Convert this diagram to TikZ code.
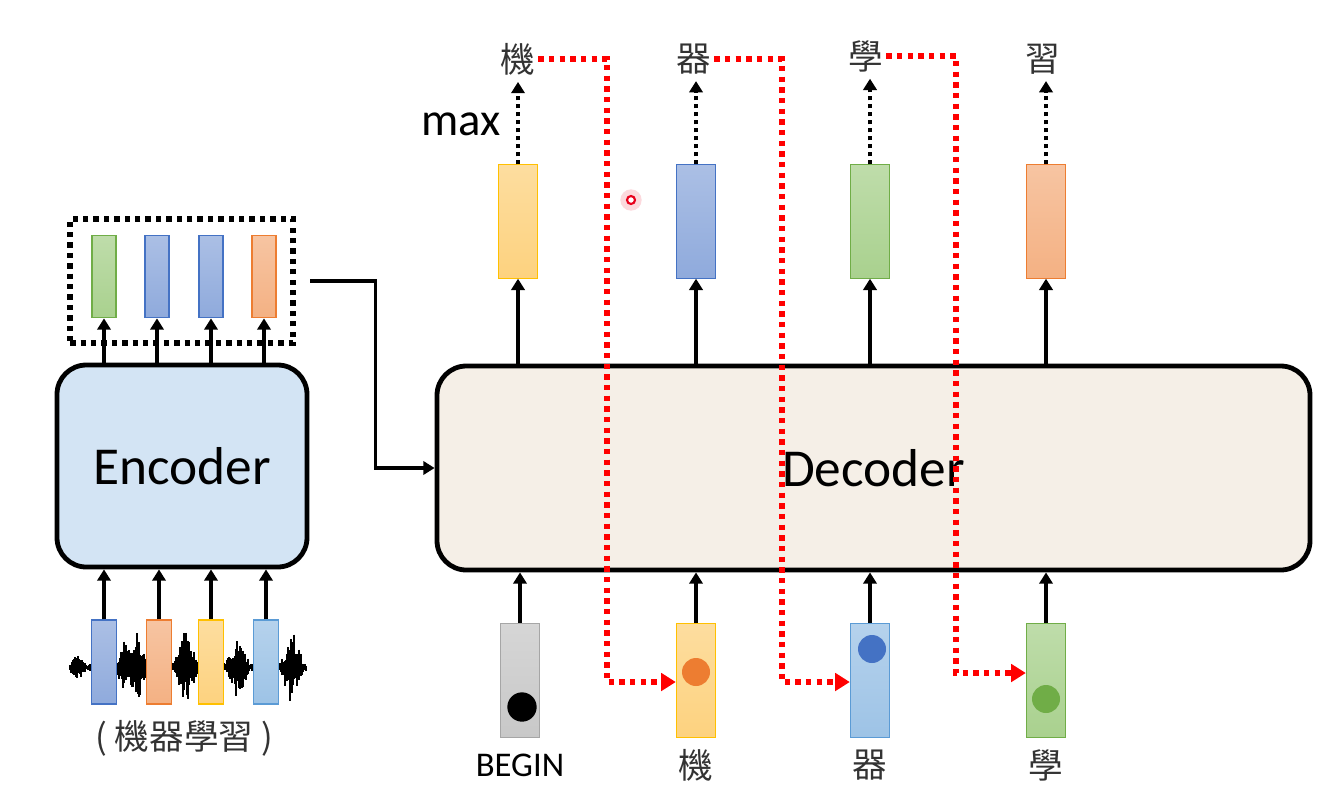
\documentclass[tikz,border=0pt]{standalone}
\usepackage{fontspec}
\newfontfamily\carl{Carlito}
\newfontfamily\cjkf{Noto Sans CJK TC}
\usetikzlibrary{arrows.meta}
\definecolor{gfill}{HTML}{A9D18E}\definecolor{gdraw}{HTML}{70AD47}
\definecolor{bfill}{HTML}{8FAADC}\definecolor{bdraw}{HTML}{4472C4}
\definecolor{ofill}{HTML}{F4B183}\definecolor{odraw}{HTML}{ED7D31}
\definecolor{yfill}{HTML}{FDD27F}\definecolor{ydraw}{HTML}{FFC000}
\definecolor{lbfill}{HTML}{9DC3E6}\definecolor{lbdraw}{HTML}{5B9BD5}
\definecolor{grfill}{HTML}{C8C8C8}\definecolor{grdraw}{HTML}{A6A6A6}
\definecolor{encfill}{HTML}{D3E4F4}\definecolor{decfill}{HTML}{F5EFE7}
\definecolor{txt}{HTML}{333333}
\definecolor{laserred}{HTML}{E8001C}
\begin{document}
\begin{tikzpicture}[x=0.75pt,y=-0.75pt,
  vcol/.style 2 args={top color=#1!75!white, bottom color=#1, draw=#2},
  smallvec/.style={line width=0.8pt, inner sep=0pt, minimum width=18pt, minimum height=62pt},
  audvec/.style={line width=0.8pt, inner sep=0pt, minimum width=19pt, minimum height=63pt},
  bigvec/.style={line width=0.8pt, inner sep=0pt, minimum width=29.5pt, minimum height=85pt},
  mainbox/.style={draw, line width=3.6pt, rounded corners=22pt, inner sep=0pt, font=\carl\fontsize{40}{48}\selectfont},
  grpbox/.style={draw, line width=4.2pt, dash pattern=on 4pt off 3.8pt, inner sep=0pt, minimum width=167pt, minimum height=93pt},
  arr/.style={line width=2.5pt, -{Triangle[width=10pt,length=8.5pt]}},
  dotarr/.style={line width=3pt, dash pattern=on 3pt off 3pt, -{Triangle[width=10pt,length=8.5pt]}, shorten >=3pt},
  redarr/.style={draw=red, line width=4pt, dash pattern=on 4pt off 4pt, -{Triangle[width=13pt,length=11pt]}},
  cjklab/.style={text=txt, font=\cjkf\fontsize{26}{30}\selectfont, inner sep=2pt},
  sanslab/.style={text=txt, font=\carl\fontsize{26}{30}\selectfont, inner sep=2pt},
  dotball/.style={circle, inner sep=0pt, minimum size=#1}
]
\useasboundingbox (0,0) rectangle (1333,785);

% waveform
\pgfmathsetseed{42}
\foreach \x in {70,...,306}{
  \pgfmathsetmacro\env{4+10*max(0,1-abs(\x-78)/9)+24*max(0,1-abs(\x-125)/10)+34*max(0,1-abs(\x-138)/9)+36*max(0,1-abs(\x-186)/12)+32*max(0,1-abs(\x-238)/12)+36*max(0,1-abs(\x-292)/12)}
  \pgfmathsetmacro\ua{\env*(0.3+0.7*rnd)}
  \pgfmathsetmacro\ub{\env*(0.3+0.7*rnd)}
  \draw[line width=0.9pt] (\x,667-\ua) -- (\x,667+\ub);
}

% encoder
\node[mainbox, fill=encfill, minimum width=187.5pt, minimum height=151.5pt] (enc) at (182,466) {Encoder};
\node[grpbox] (grp) at (181.5,281) {};
\node[smallvec, vcol={gfill}{gdraw}] (o1) at (104,276.5) {};
\node[smallvec, vcol={bfill}{bdraw}] (o2) at (157,276.5) {};
\node[smallvec, vcol={bfill}{bdraw}] (o3) at (211,276.5) {};
\node[smallvec, vcol={ofill}{odraw}] (o4) at (264,276.5) {};
\foreach \i in {1,...,4}{ \draw[arr] (enc.north -| o\i) -- (o\i.south); }

\node[audvec, vcol={bfill}{bdraw}] (a1) at (104,662) {};
\node[audvec, vcol={ofill}{odraw}] (a2) at (159,662) {};
\node[audvec, vcol={yfill}{ydraw}] (a3) at (211,662) {};
\node[audvec, vcol={lbfill}{lbdraw}] (a4) at (266,662) {};
\foreach \i in {1,...,4}{ \draw[arr] (a\i.north) -- (enc.south -| a\i); }
\node[cjklab] (inlab) at (184,738) {( 機器學習 )};

% decoder
\node[mainbox, fill=decfill, minimum width=654.75pt, minimum height=153pt] (dec) at (873.5,468) {Decoder};
\draw[arr, shorten <=11pt] (grp.east) -- ++(80,0) |- (dec.west);

% outputs
\node[bigvec, vcol={yfill}{ydraw}] (v1) at (518,221.5) {};
\node[bigvec, vcol={bfill}{bdraw}] (v2) at (696,221.5) {};
\node[bigvec, vcol={gfill}{gdraw}] (v3) at (870,221.5) {};
\node[bigvec, vcol={ofill}{odraw}] (v4) at (1046,221.5) {};
\node[cjklab] (t1) at (518,59) {機};
\node[cjklab] (t2) at (694,59) {器};
\node[cjklab] (t3) at (866,56) {學};
\node[cjklab] (t4) at (1043,59) {習};
\node[text=black, font=\carl\fontsize{35}{40}\selectfont, inner sep=0pt] (maxlab) at (461,124) {max};
\foreach \i in {1,...,4}{
  \draw[arr] (dec.north -| v\i) -- (v\i.south);
  \draw[dotarr] (v\i.north) -- (v\i.north |- t\i.south);
}

% inputs
\node[bigvec, minimum height=86pt, vcol={grfill}{grdraw}] (i1) at (520,680.5) {};
\node[bigvec, minimum height=86pt, vcol={yfill}{ydraw}] (i2) at (696,680.5) {};
\node[bigvec, minimum height=86pt, vcol={lbfill}{lbdraw}] (i3) at (870,680.5) {};
\node[bigvec, minimum height=86pt, vcol={gfill}{gdraw}] (i4) at (1046,680.5) {};
\foreach \i in {1,...,4}{ \draw[arr] (i\i.north) -- (dec.south -| i\i); }
\node[dotball=22pt, fill=black] (d1) at (522,707) {};
\node[dotball=21pt, fill=odraw] (d2) at (696,672) {};
\node[dotball=21pt, fill=bdraw] (d3) at (872,649) {};
\node[dotball=21pt, fill=gdraw] (d4) at (1046,699) {};
\node[sanslab, text=black] (b1) at (520,765) {BEGIN};
\node[cjklab] (b2) at (696,765) {機};
\node[cjklab] (b3) at (870,765) {器};
\node[cjklab] (b4) at (1046,765) {學};

% red feedback connectors
\coordinate (c1) at (607,682);
\coordinate (c2) at (782,682);
\coordinate (c3) at (956,673);
\draw[redarr] (t1.east) -| (c1) -- (c1 -| i2.west);
\draw[redarr] (t2.east) -| (c2) -- (c2 -| i3.west);
\draw[redarr] (t3.east) -| (c3) -- (c3 -| i4.west);

% laser pointer
\node[circle, fill=laserred, opacity=0.15, minimum size=16pt, inner sep=0pt] (glow) at (631,200) {};
\node[circle, draw=laserred, fill=white, line width=1.6pt, minimum size=6pt, inner sep=0pt] (laser) at (631,200) {};
\end{tikzpicture}
\end{document}
